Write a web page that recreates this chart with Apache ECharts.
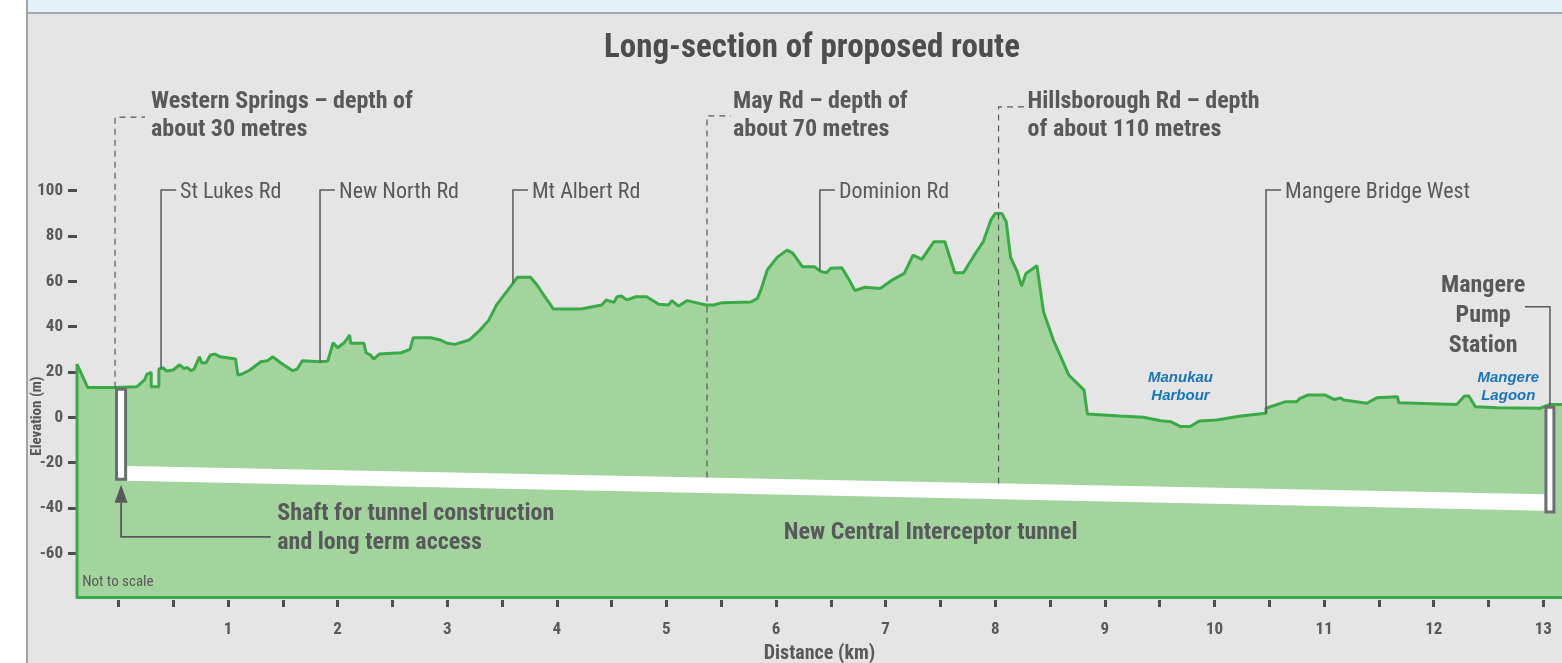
<!DOCTYPE html>
<html><head><meta charset="utf-8">
<script src="https://cdn.jsdelivr.net/npm/echarts@6/dist/echarts.min.js"></script>
<style>
html,body{margin:0;padding:0;width:1562px;height:663px;background:#fff;overflow:hidden;}
#panel{position:absolute;left:26px;top:0;width:1536px;height:663px;background:#e5e5e5;border-left:2px solid #a3a3a3;box-sizing:border-box;}
#strip{position:absolute;left:0;top:0;width:100%;height:12px;background:#e3f1f9;border-bottom:2px solid #a8a8a8;}
#chart{position:absolute;left:0;top:0;width:1562px;height:663px;}
</style></head>
<body><div id="panel"><div id="strip"></div></div><div id="chart"></div>
<script>
// ---------------- DATA ----------------
const TITLE = 'Long-section of proposed route';
const profileKm = [-0.377,-0.28,-0.03,0.17,0.24,0.26,0.30,0.30,0.37,0.37,0.41,0.44,0.50,0.56,0.60,0.63,0.66,0.69,0.74,0.76,0.80,0.84,0.88,0.93,1.07,1.09,1.13,1.20,1.30,1.36,1.41,1.48,1.59,1.63,1.68,1.84,1.91,1.96,2.00,2.06,2.11,2.12,2.24,2.26,2.30,2.33,2.38,2.58,2.66,2.69,2.85,2.94,3.00,3.07,3.20,3.30,3.38,3.45,3.55,3.64,3.76,3.82,3.88,3.97,4.22,4.41,4.45,4.52,4.55,4.59,4.64,4.72,4.82,4.93,5.02,5.05,5.11,5.19,5.36,5.43,5.51,5.77,5.83,5.86,5.92,6.01,6.10,6.15,6.24,6.35,6.41,6.46,6.50,6.60,6.66,6.72,6.81,6.95,7.07,7.17,7.25,7.33,7.44,7.54,7.63,7.71,7.80,7.89,7.96,8.00,8.06,8.10,8.14,8.20,8.24,8.28,8.38,8.44,8.53,8.67,8.81,8.84,9.14,9.35,9.51,9.60,9.69,9.78,9.86,10.02,10.24,10.47,10.47,10.65,10.75,10.78,10.85,11.01,11.09,11.15,11.18,11.39,11.48,11.67,11.68,12.21,12.28,12.32,12.38,12.58,12.97,13.06,13.17];
const profileElev = [23.5,13.2,13.2,13.5,16.5,19,19.8,13.5,13.5,21.3,21.8,20.4,20.9,23.2,21.5,22,20.6,21.2,26.7,24.1,24.1,27.5,27.9,26.7,25.7,18.7,19.1,20.9,24.5,25,26.7,24.1,20.6,21.2,25,24.5,24.8,32.9,30.7,32.9,36.3,32.7,32.7,28.5,27.5,25.7,27.9,28.5,30,35.1,35.1,34.1,32.7,32.2,34.1,38.5,42.9,49.6,55.9,61.8,61.8,58.4,54,47.8,47.8,49.6,51.8,50.7,53.2,53.5,51.8,53.2,53.2,49.9,49.6,51.5,49.1,51.5,49.6,49.6,50.6,50.9,52.5,56,65,70.6,73.8,72.6,66.5,66.5,64.3,63.8,65.8,66,61.3,55.9,57.4,56.9,60.9,63.5,71.6,69.7,77.5,77.5,63.8,63.8,70.9,77.5,87.1,90,90,86.3,70.6,64.3,57.9,63.5,66.9,46.6,34.1,18.7,12,1.5,0.6,0,-1.5,-1.9,-4.1,-4.1,-1.6,-1.2,0.6,1.8,4,6.9,6.9,8.4,9.8,9.8,7.9,8.5,7.6,6.2,8.6,9.1,6.4,5.7,9.4,9.4,4.7,4.2,4,5.7,5.7];

const roadNames = ['St Lukes Rd','New North Rd','Mt Albert Rd','Dominion Rd','Mangere Bridge West'];
const roadKm = [0.39, 1.84, 3.60, 6.40, 10.47];

const depthLabels = ['Western Springs – depth of\nabout 30 metres','May Rd – depth of\nabout 70 metres','Hillsborough Rd – depth\nof about 110 metres'];
const depthKm = [-0.03, 5.37, 8.03];

const shaftLeftKm = [-0.03, 13.01];
const shaftRightKm = [0.08, 13.11];
const shaftTop = [13.1, 5.1];
const shaftBottom = [-28, -42.4];

const tunnelKm = [0.08, 13.01];
const tunnelTop = [-21.5, -34];
const tunnelBottom = [-28, -41.2];

const waterNames = ['Manukau\nHarbour', 'Mangere\nLagoon'];
const waterKm = [9.69, 12.68];

const xTickKm = [0,0.5,1,1.5,2,2.5,3,3.5,4,4.5,5,5.5,6,6.5,7,7.5,8,8.5,9,9.5,10,10.5,11,11.5,12,12.5,13];
const xLabelKm = [1,2,3,4,5,6,7,8,9,10,11,12,13];
const yTicks = [-60,-40,-20,0,20,40,60,80,100];

// ---------------- LAYOUT / STYLE ----------------
const X_MIN = -0.377, X_MAX = 13.17, Y_MIN = -79.3, Y_MAX = 157.7;
const LAYOUT = {
  roadRow: 100.3, roadTextDy: 2,
  depthDashTop: [132.5, 133, 137],
  depthTextElev: 133.1,
  depthDashLen: [30, 24, 26],
  depthTextDx: [36, 26, 29],
  waterElev: 13.4,
  pumpTextKm: 12.45, pumpTextElev: 44.7, pumpLeaderElev: 48.8,
  shaftNoteKm: 1.45, shaftNoteElev: -49.2, shaftArrowElev: -52.8, shaftArrowEndKm: 1.39,
  tunnelNoteKm: 7.41, tunnelNoteElev: -51.0,
  noteKm: -0.33, noteElev: -73
};
const FONT = '"Liberation Sans Narrow","Arial Narrow","Roboto Condensed","DejaVu Sans Condensed",sans-serif';
const DARK = '#58595b';
const GREEN_LINE = '#3aaa46';
const GREEN_FILL = '#a3d49e';
const BLUE = '#1a75bb';

function groundAt(k){
  for (let i = 1; i < profileKm.length; i++) {
    if (profileKm[i] >= k) {
      const k0 = profileKm[i-1], k1 = profileKm[i];
      const t = k1 === k0 ? 1 : (k - k0) / (k1 - k0);
      return profileElev[i-1] + t * (profileElev[i] - profileElev[i-1]);
    }
  }
  return profileElev[profileElev.length-1];
}
function tunnelTopAt(k){
  const t = (k - tunnelKm[0]) / (tunnelKm[1] - tunnelKm[0]);
  return tunnelTop[0] + t * (tunnelTop[1] - tunnelTop[0]);
}

function renderNotes(params, api){
  const c = (k, m) => api.coord([k, m]);
  const kids = [];
  const txt = (p, text, font, extra) => ({type:'text', x:p[0], y:p[1], silent:true,
    style: Object.assign({text, font, fill: DARK, align:'left', verticalAlign:'middle'}, extra || {})});

  // left edge of ground
  kids.push({type:'polyline', shape:{points:[c(profileKm[0], Y_MIN), c(profileKm[0], profileElev[0])]},
    style:{stroke:GREEN_LINE, lineWidth:3, fill:null}});

  // tunnel
  kids.push({type:'polygon', shape:{points:[
    c(tunnelKm[0], tunnelTop[0]), c(tunnelKm[1], tunnelTop[1]),
    c(tunnelKm[1], tunnelBottom[1]), c(tunnelKm[0], tunnelBottom[0])]},
    style:{fill:'#ffffff'}});

  // shafts
  for (let i = 0; i < shaftLeftKm.length; i++) {
    const a = c(shaftLeftKm[i], shaftTop[i]), b = c(shaftRightKm[i], shaftBottom[i]);
    kids.push({type:'rect', shape:{x:a[0]+1.5, y:a[1]+1.5, width:b[0]-a[0]-3, height:b[1]-a[1]-3},
      style:{fill:'#ffffff', stroke:'#6d6e71', lineWidth:3}});
  }

  // road leaders
  for (let i = 0; i < roadNames.length; i++) {
    const p0 = c(roadKm[i], groundAt(roadKm[i]));
    const p1 = c(roadKm[i], LAYOUT.roadRow);
    kids.push({type:'polyline', shape:{points:[p0, p1, [p1[0]+15, p1[1]]]},
      style:{stroke:DARK, lineWidth:1.5, fill:null}});
    kids.push(txt([p1[0]+19, p1[1]+LAYOUT.roadTextDy], roadNames[i], '22px ' + FONT));
  }

  // depth leaders (dashed)
  for (let i = 0; i < depthLabels.length; i++) {
    const bottom = i === 0 ? shaftTop[0] : tunnelTopAt(depthKm[i]);
    const p0 = c(depthKm[i], bottom);
    const p1 = c(depthKm[i], LAYOUT.depthDashTop[i]);
    kids.push({type:'polyline', shape:{points:[p0, p1, [p1[0]+LAYOUT.depthDashLen[i], p1[1]]]},
      style:{stroke:DARK, lineWidth:1.2, lineDash:[6,5], fill:null}});
    const pt = c(depthKm[i], LAYOUT.depthTextElev);
    kids.push(txt([p1[0]+LAYOUT.depthTextDx[i], pt[1]], depthLabels[i], 'bold 24px ' + FONT, {lineHeight:28}));
  }

  // water labels
  for (let i = 0; i < waterNames.length; i++) {
    kids.push(txt(c(waterKm[i], LAYOUT.waterElev), waterNames[i], 'italic bold 15px "Liberation Sans", Arial, sans-serif',
      {fill:BLUE, align:'center', lineHeight:18}));
  }

  // pump station
  const sm = (shaftLeftKm[1] + shaftRightKm[1]) / 2;
  const q1 = c(sm, LAYOUT.pumpLeaderElev), q0 = c(sm, shaftTop[1]);
  kids.push({type:'polyline', shape:{points:[[q1[0]-25, q1[1]], q1, q0]},
    style:{stroke:DARK, lineWidth:1.5, fill:null}});
  kids.push(txt(c(LAYOUT.pumpTextKm, LAYOUT.pumpTextElev), 'Mangere\nPump\nStation', 'bold 24px ' + FONT,
    {align:'center', lineHeight:30}));

  // shaft arrow + note
  const s0 = (shaftLeftKm[0] + shaftRightKm[0]) / 2;
  const tip = c(s0, shaftBottom[0]); tip[1] += 4;
  const base = tip[1] + 18;
  kids.push({type:'polygon', shape:{points:[tip, [tip[0]-6.5, base], [tip[0]+6.5, base]]}, style:{fill:DARK}});
  const corner = c(s0, LAYOUT.shaftArrowElev);
  const endp = c(LAYOUT.shaftArrowEndKm, LAYOUT.shaftArrowElev);
  kids.push({type:'polyline', shape:{points:[[tip[0], base], corner, endp]},
    style:{stroke:DARK, lineWidth:1.8, fill:null}});
  kids.push(txt(c(LAYOUT.shaftNoteKm, LAYOUT.shaftNoteElev), 'Shaft for tunnel construction\nand long term access',
    'bold 24px ' + FONT, {lineHeight:29}));

  // tunnel note
  kids.push(txt(c(LAYOUT.tunnelNoteKm, LAYOUT.tunnelNoteElev), 'New Central Interceptor tunnel',
    'bold 24px ' + FONT, {align:'center'}));

  // not to scale
  kids.push(txt(c(LAYOUT.noteKm, LAYOUT.noteElev), 'Not to scale', '15px ' + FONT));

  return {type:'group', children:kids};
}

const chart = echarts.init(document.getElementById('chart'), null, {renderer:'canvas'});
chart.setOption({
  animation:false,
  backgroundColor:'transparent',
  title:{
    text: TITLE, left:599, top:27,
    textStyle:{fontSize:33, fontWeight:'bold', color:'#4d4d4f', fontFamily:FONT}
  },
  grid:{left:77, right:0, top:60, bottom:66, containLabel:false, outerBoundsMode:'none'},
  xAxis:[{
    type:'value', min:X_MIN, max:X_MAX, offset:3,
    axisLine:{show:false, onZero:false},
    axisTick:{show:true, customValues:xTickKm, length:7, lineStyle:{color:'#4d4d4f', width:3}},
    axisLabel:{show:true, customValues:xLabelKm, margin:21, color:DARK, fontWeight:'bold', fontSize:17, fontFamily:FONT},
    splitLine:{show:false},
    name:'Distance (km)', nameLocation:'middle', nameGap:44,
    nameTextStyle:{color:DARK, fontWeight:'bold', fontSize:20, fontFamily:FONT}
  },{
    type:'value', min:X_MIN, max:X_MAX, position:'bottom', z:10,
    axisLine:{show:true, onZero:false, lineStyle:{color:GREEN_LINE, width:3}},
    axisTick:{show:false}, axisLabel:{show:false}, splitLine:{show:false}
  }],
  yAxis:{
    type:'value', min:Y_MIN, max:Y_MAX,
    axisLine:{show:false, onZero:false},
    axisTick:{show:true, customValues:yTicks, length:9, lineStyle:{color:'#4d4d4f', width:3}},
    axisLabel:{show:true, customValues:yTicks, margin:14, color:DARK, fontWeight:'bold', fontSize:17, fontFamily:FONT},
    splitLine:{show:false}
  },
  graphic:[{
    type:'text', x:37, y:416, rotation:Math.PI/2, silent:true,
    style:{text:'Elevation (m)', align:'center', verticalAlign:'middle', fill:DARK, font:'bold 15px ' + FONT}
  }],
  series:[{
    name:'Ground profile', type:'line', xAxisIndex:0,
    data: profileKm.map((k, i) => [k, profileElev[i]]),
    symbol:'none', z:2,
    lineStyle:{color:GREEN_LINE, width:3},
    areaStyle:{color:GREEN_FILL, opacity:1, origin:'start'}
  },{
    name:'Annotations', type:'custom', xAxisIndex:0, z:5, silent:true, clip:false,
    renderItem: renderNotes, data:[[0,0]]
  }]
});
</script>
</body></html>
